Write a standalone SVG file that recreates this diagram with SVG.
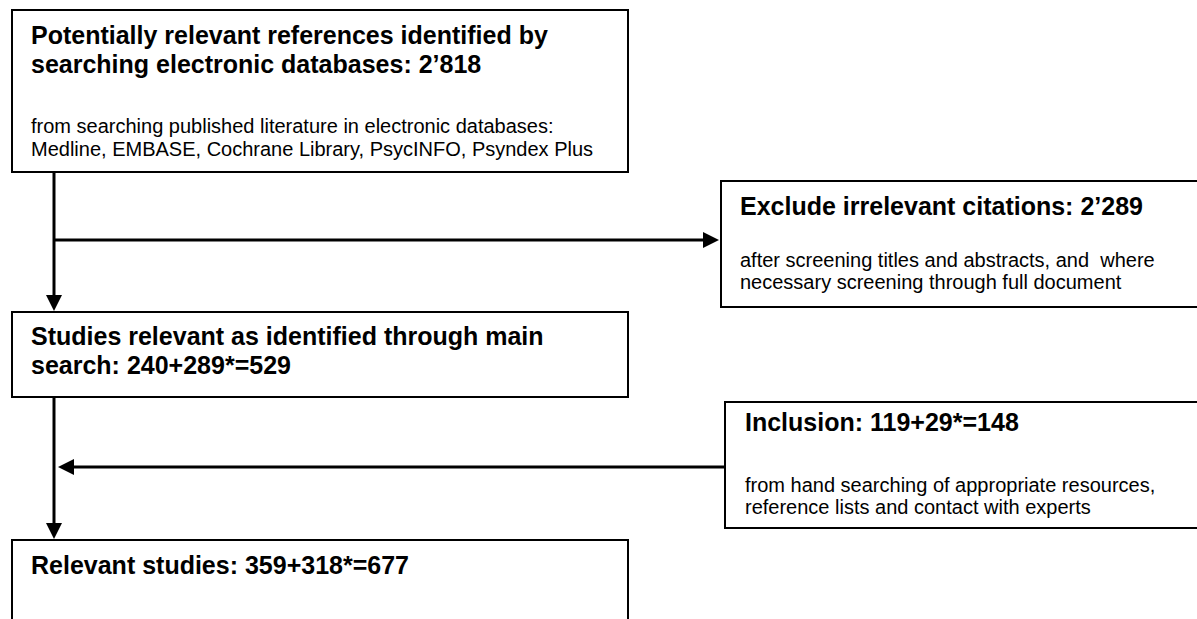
<svg xmlns="http://www.w3.org/2000/svg" width="1197" height="619" viewBox="0 0 1197 619">
<style>
.box{fill:#fff;stroke:#000;stroke-width:2}
.t{font-family:"Liberation Sans",Arial,sans-serif;font-weight:bold;font-size:25px;fill:#000}
.s{font-family:"Liberation Sans",Arial,sans-serif;font-size:20px;fill:#000}
.c{fill:none;stroke:#000;stroke-width:3}
</style>
<defs>
<marker id="ah" markerWidth="16" markerHeight="16" refX="8" refY="8" orient="auto" markerUnits="userSpaceOnUse"><path d="M0,0 L16,8 L0,16 Z" fill="#000"/></marker>
</defs>
<g id="connectors">
<line class="c" x1="54" y1="172" x2="54" y2="303" marker-end="url(#ah)"/>
<line class="c" x1="54" y1="240" x2="711" y2="240" marker-end="url(#ah)"/>
<line class="c" x1="54" y1="397" x2="54" y2="531" marker-end="url(#ah)"/>
<line class="c" x1="725" y1="467" x2="66" y2="467" marker-end="url(#ah)"/>
</g>
<g id="n1">
<rect class="box" x="12" y="10" width="616" height="162"/>
<text class="t" x="31" y="44">Potentially relevant references identified by</text>
<text class="t" x="31" y="73">searching electronic databases:  2’818</text>
<text class="s" x="31" y="133">from searching published literature in electronic databases:</text>
<text class="s" x="31" y="156">Medline, EMBASE, Cochrane Library, PsycINFO, Psyndex Plus</text>
</g>
<g id="n2">
<rect class="box" x="721" y="181" width="490" height="126"/>
<text class="t" x="740" y="215">Exclude irrelevant citations: 2’289</text>
<text class="s" x="740" y="267">after screening titles and abstracts, and&#160; where</text>
<text class="s" x="740" y="289">necessary screening through full document</text>
</g>
<g id="n3">
<rect class="box" x="12" y="312" width="616" height="85"/>
<text class="t" x="31" y="345">Studies relevant as identified through main</text>
<text class="t" x="31" y="374">search: 240+289*=529</text>
</g>
<g id="n4">
<rect class="box" x="725" y="402" width="490" height="126"/>
<text class="t" x="745" y="431">Inclusion: 119+29*=148</text>
<text class="s" x="745" y="492">from hand searching of appropriate resources,</text>
<text class="s" x="745" y="514">reference lists and contact with experts</text>
</g>
<g id="n5">
<rect class="box" x="12" y="540" width="616" height="100"/>
<text class="t" x="31" y="574">Relevant studies: 359+318*=677</text>
</g>
</svg>
